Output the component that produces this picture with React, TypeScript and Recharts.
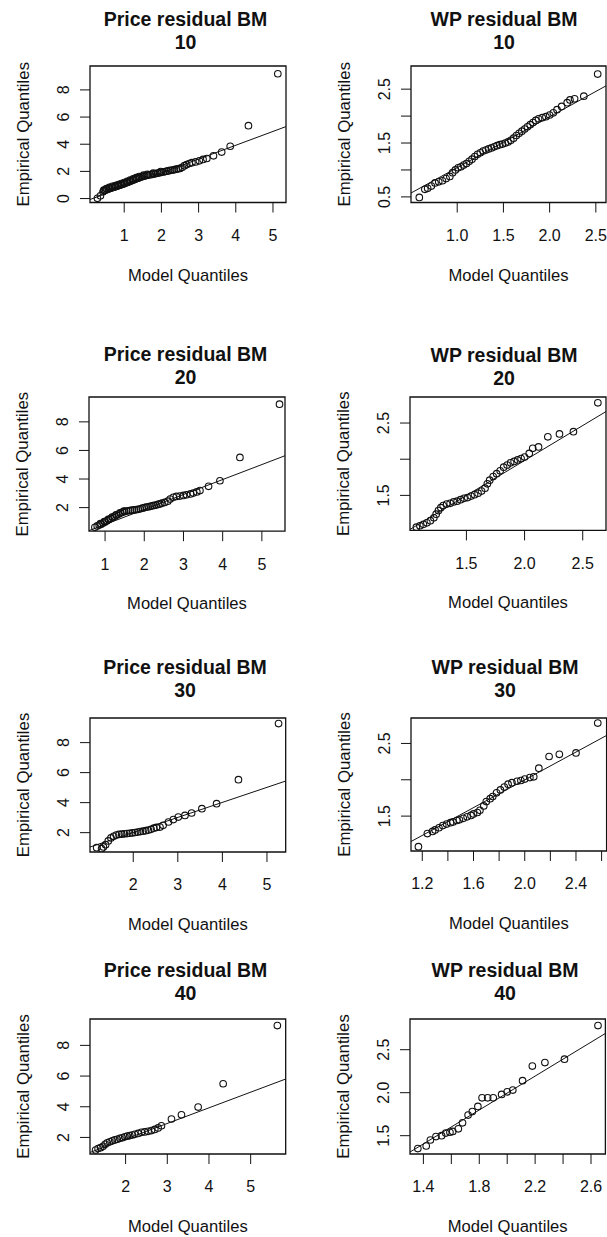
import React from 'react';
import { ScatterChart, Scatter, XAxis, YAxis, ReferenceLine, ReferenceArea } from 'recharts';

const FONT = '"Liberation Sans", Arial, Helvetica, sans-serif';
const INK = '#111';

// ---------- data: [model quantile, empirical quantile] ----------
const priceBM10: [number, number][] = [
  [0.28, 0.02], [0.36, 0.2], [0.43, 0.5], [0.45, 0.62], [0.47, 0.6], [0.5, 0.65], [0.52, 0.74], [0.54, 0.68],
  [0.58, 0.72], [0.6, 0.82], [0.62, 0.76], [0.66, 0.8], [0.68, 0.9], [0.7, 0.83], [0.74, 0.86], [0.76, 0.96],
  [0.78, 0.89], [0.82, 0.93], [0.84, 1.03], [0.86, 0.97], [0.9, 1.0], [0.92, 1.1], [0.94, 1.04], [0.98, 1.08],
  [1.0, 1.18], [1.02, 1.12], [1.06, 1.17], [1.08, 1.27], [1.1, 1.21], [1.14, 1.26], [1.16, 1.36], [1.18, 1.3],
  [1.22, 1.35], [1.24, 1.45], [1.26, 1.39], [1.3, 1.44], [1.32, 1.54], [1.34, 1.48], [1.38, 1.52], [1.4, 1.62],
  [1.42, 1.56], [1.46, 1.6], [1.5, 1.63], [1.52, 1.72], [1.55, 1.66], [1.6, 1.7], [1.62, 1.79], [1.65, 1.73],
  [1.7, 1.76], [1.75, 1.78], [1.78, 1.87], [1.8, 1.81], [1.85, 1.84], [1.9, 1.87], [1.95, 1.9], [1.98, 1.99],
  [2.0, 1.93], [2.05, 1.96], [2.1, 1.99], [2.15, 2.02], [2.2, 2.05], [2.25, 2.08], [2.3, 2.1], [2.35, 2.13],
  [2.4, 2.16], [2.45, 2.19], [2.5, 2.22], [2.56, 2.3], [2.62, 2.42], [2.68, 2.5], [2.75, 2.58], [2.82, 2.64],
  [2.92, 2.7], [3.02, 2.78], [3.12, 2.88], [3.22, 2.95], [3.4, 3.15], [3.62, 3.42], [3.85, 3.85], [4.34, 5.37],
  [5.13, 9.19],
];
const wpBM10: [number, number][] = [
  [0.59, 0.49], [0.65, 0.64], [0.68, 0.66], [0.72, 0.7], [0.76, 0.76], [0.8, 0.78], [0.84, 0.8], [0.88, 0.84],
  [0.92, 0.88], [0.95, 0.95], [0.98, 1.0], [1.01, 1.04], [1.04, 1.06], [1.07, 1.09], [1.1, 1.12], [1.13, 1.16],
  [1.16, 1.2], [1.19, 1.25], [1.22, 1.29], [1.25, 1.32], [1.28, 1.35], [1.31, 1.37], [1.34, 1.39], [1.37, 1.41],
  [1.4, 1.43], [1.43, 1.45], [1.46, 1.47], [1.49, 1.48], [1.52, 1.5], [1.55, 1.52], [1.58, 1.55], [1.61, 1.59],
  [1.64, 1.64], [1.67, 1.68], [1.7, 1.72], [1.73, 1.76], [1.76, 1.8], [1.79, 1.84], [1.82, 1.88], [1.85, 1.92],
  [1.88, 1.95], [1.92, 1.97], [1.96, 1.99], [2.0, 2.02], [2.04, 2.06], [2.08, 2.12], [2.13, 2.18], [2.19, 2.25],
  [2.22, 2.3], [2.27, 2.32], [2.37, 2.37], [2.52, 2.78],
];
const priceBM20: [number, number][] = [
  [0.74, 0.62], [0.8, 0.72], [0.85, 0.78], [0.88, 0.88], [0.9, 0.84], [0.95, 0.92], [0.98, 1.02], [1.0, 1.0],
  [1.05, 1.08], [1.08, 1.18], [1.1, 1.16], [1.15, 1.24], [1.18, 1.34], [1.2, 1.32], [1.25, 1.4], [1.28, 1.5],
  [1.3, 1.48], [1.35, 1.55], [1.38, 1.64], [1.4, 1.62], [1.45, 1.68], [1.48, 1.76], [1.5, 1.73], [1.55, 1.76],
  [1.6, 1.78], [1.65, 1.8], [1.7, 1.82], [1.75, 1.84], [1.8, 1.86], [1.85, 1.88], [1.9, 1.92], [1.95, 1.96],
  [2.0, 2.0], [2.05, 2.03], [2.1, 2.06], [2.15, 2.09], [2.2, 2.12], [2.25, 2.15], [2.3, 2.18], [2.35, 2.22],
  [2.4, 2.26], [2.45, 2.31], [2.52, 2.36], [2.6, 2.45], [2.66, 2.6], [2.74, 2.72], [2.82, 2.78], [2.91, 2.81],
  [3.0, 2.85], [3.08, 2.9], [3.18, 2.96], [3.25, 3.02], [3.34, 3.1], [3.42, 3.19], [3.64, 3.49], [3.93, 3.88],
  [4.44, 5.51], [5.45, 9.24],
];
const wpBM20: [number, number][] = [
  [1.07, 1.06], [1.1, 1.08], [1.13, 1.1], [1.16, 1.12], [1.19, 1.15], [1.22, 1.19], [1.24, 1.24], [1.26, 1.29],
  [1.28, 1.33], [1.3, 1.36], [1.33, 1.38], [1.36, 1.39], [1.39, 1.41], [1.42, 1.42], [1.45, 1.44], [1.48, 1.46],
  [1.51, 1.47], [1.54, 1.49], [1.57, 1.51], [1.6, 1.53], [1.63, 1.56], [1.66, 1.6], [1.68, 1.66], [1.7, 1.71],
  [1.73, 1.76], [1.76, 1.8], [1.79, 1.84], [1.82, 1.89], [1.85, 1.92], [1.88, 1.95], [1.91, 1.97], [1.94, 1.99],
  [1.97, 2.01], [2.0, 2.03], [2.04, 2.08], [2.07, 2.15], [2.12, 2.17], [2.2, 2.31], [2.3, 2.35], [2.42, 2.38],
  [2.63, 2.78],
];
const priceBM30: [number, number][] = [
  [1.18, 1.0], [1.29, 0.93], [1.33, 1.05], [1.38, 1.2], [1.44, 1.45], [1.5, 1.65], [1.56, 1.76], [1.62, 1.84],
  [1.68, 1.88], [1.74, 1.9], [1.8, 1.92], [1.86, 1.94], [1.92, 1.96], [1.98, 1.98], [2.04, 2.01], [2.1, 2.04],
  [2.16, 2.07], [2.22, 2.1], [2.28, 2.13], [2.34, 2.17], [2.4, 2.22], [2.46, 2.3], [2.52, 2.35], [2.6, 2.37],
  [2.67, 2.49], [2.79, 2.71], [2.9, 2.87], [3.01, 3.04], [3.16, 3.15], [3.31, 3.31], [3.54, 3.6], [3.87, 3.93],
  [4.36, 5.53], [5.26, 9.27],
];
const wpBM30: [number, number][] = [
  [1.17, 1.08], [1.24, 1.26], [1.28, 1.29], [1.3, 1.31], [1.33, 1.34], [1.36, 1.37], [1.39, 1.39], [1.42, 1.41],
  [1.44, 1.42], [1.47, 1.44], [1.49, 1.45], [1.52, 1.47], [1.55, 1.49], [1.58, 1.51], [1.6, 1.53], [1.63, 1.55],
  [1.65, 1.58], [1.68, 1.64], [1.7, 1.7], [1.73, 1.74], [1.75, 1.77], [1.78, 1.82], [1.81, 1.86], [1.84, 1.9],
  [1.87, 1.94], [1.9, 1.96], [1.94, 1.98], [1.97, 1.99], [2.0, 2.01], [2.04, 2.03], [2.07, 2.04], [2.11, 2.16],
  [2.19, 2.32], [2.27, 2.35], [2.4, 2.37], [2.57, 2.78],
];
const priceBM40: [number, number][] = [
  [1.28, 1.18], [1.34, 1.28], [1.4, 1.33], [1.46, 1.42], [1.51, 1.55], [1.56, 1.65], [1.62, 1.72], [1.68, 1.78],
  [1.74, 1.84], [1.8, 1.88], [1.86, 1.94], [1.92, 1.98], [1.98, 2.04], [2.04, 2.08], [2.1, 2.12], [2.16, 2.16],
  [2.22, 2.2], [2.3, 2.26], [2.38, 2.33], [2.46, 2.36], [2.54, 2.4], [2.62, 2.45], [2.7, 2.52], [2.78, 2.62],
  [2.86, 2.76], [3.1, 3.2], [3.34, 3.48], [3.74, 3.98], [4.34, 5.5], [5.64, 9.29],
];
const wpBM40: [number, number][] = [
  [1.36, 1.35], [1.42, 1.38], [1.45, 1.45], [1.49, 1.49], [1.53, 1.5], [1.56, 1.53], [1.59, 1.54], [1.61, 1.55],
  [1.65, 1.58], [1.68, 1.65], [1.72, 1.74], [1.75, 1.78], [1.79, 1.84], [1.82, 1.94], [1.86, 1.94], [1.9, 1.94],
  [1.96, 1.98], [2.0, 2.01], [2.04, 2.03], [2.11, 2.14], [2.18, 2.31], [2.27, 2.35], [2.41, 2.39], [2.65, 2.78],
];

// reference (qq) lines: [intercept, slope]
const linePrice10 = [-0.152, 1.019];
const lineWP10 = [0.1, 0.943];
const linePrice20 = [-0.228, 1.048];
const lineWP20 = [0.048, 0.967];
const linePrice30 = [0.008, 1.002];
const lineWP30 = [0.087, 0.956];
const linePrice40 = [-0.149, 1.02];
const lineWP40 = [0.024, 0.986];

// tick values and the ones carrying a label
const priceXTicks1 = [1, 2, 3, 4, 5];
const priceXTicks2 = [2, 3, 4, 5];
const priceYTicks0 = [0, 2, 4, 6, 8];
const priceYTicks2 = [2, 4, 6, 8];
const wp10XTicks = [1.0, 1.5, 2.0, 2.5];
const wp10YTicks = [0.5, 1.0, 1.5, 2.0, 2.5];
const wp10YLabels = [0.5, 1.5, 2.5];
const wp20XTicks = [1.5, 2.0, 2.5];
const wpYTicks = [1.5, 2.0, 2.5];
const wpYLabelsSparse = [1.5, 2.5];
const wp30XTicks = [1.2, 1.4, 1.6, 1.8, 2.0, 2.2, 2.4, 2.6];
const wp30XLabels = [1.2, 1.6, 2.0, 2.4];
const wp40XTicks = [1.4, 1.6, 1.8, 2.0, 2.2, 2.4, 2.6];
const wp40XLabels = [1.4, 1.8, 2.2, 2.6];

const titles = [
  ['Price residual BM', '10'], ['WP residual BM', '10'],
  ['Price residual BM', '20'], ['WP residual BM', '20'],
  ['Price residual BM', '30'], ['WP residual BM', '30'],
  ['Price residual BM', '40'], ['WP residual BM', '40'],
];

type Panel = {
  points: [number, number][];
  line: number[];
  xDomain: [number, number];
  yDomain: [number, number];
  xTicks: number[];
  xLabels: number[];
  yTicks: number[];
  yLabels: number[];
  digits: number;
  box: [number, number, number, number];
  title: string[];
  titleX: number;
  titleMid: number;
};

const panels: Panel[] = [
  { points: priceBM10, line: linePrice10, xDomain: [0.08, 5.35], yDomain: [-0.29, 9.76],
    xTicks: priceXTicks1, xLabels: priceXTicks1, yTicks: priceYTicks0, yLabels: priceYTicks0, digits: 0,
    box: [90, 66, 286, 202.5], title: titles[0], titleX: 185.5, titleMid: 37.5 },
  { points: wpBM10, line: lineWP10, xDomain: [0.5, 2.61], yDomain: [0.396, 2.93],
    xTicks: wp10XTicks, xLabels: wp10XTicks, yTicks: wp10YTicks, yLabels: wp10YLabels, digits: 1,
    box: [411, 66, 606, 202.5], title: titles[1], titleX: 504, titleMid: 37.5 },
  { points: priceBM20, line: linePrice20, xDomain: [0.59, 5.59], yDomain: [0.35, 9.74],
    xTicks: priceXTicks1, xLabels: priceXTicks1, yTicks: priceYTicks2, yLabels: priceYTicks2, digits: 0,
    box: [89, 396.5, 285, 530.7], title: titles[2], titleX: 185.5, titleMid: 372.5 },
  { points: wpBM20, line: lineWP20, xDomain: [1.015, 2.7], yDomain: [1.016, 2.86],
    xTicks: wp20XTicks, xLabels: wp20XTicks, yTicks: wpYTicks, yLabels: wpYLabelsSparse, digits: 1,
    box: [409.5, 397.3, 605.5, 530.7], title: titles[3], titleX: 504, titleMid: 373 },
  { points: priceBM30, line: linePrice30, xDomain: [1.03, 5.42], yDomain: [0.71, 9.64],
    xTicks: priceXTicks2, xLabels: priceXTicks2, yTicks: priceYTicks2, yLabels: priceYTicks2, digits: 0,
    box: [90, 717.7, 285.7, 851.7], title: titles[4], titleX: 185, titleMid: 685.8 },
  { points: wpBM30, line: lineWP30, xDomain: [1.112, 2.639], yDomain: [1.02, 2.85],
    xTicks: wp30XTicks, xLabels: wp30XLabels, yTicks: wpYTicks, yLabels: wpYLabelsSparse, digits: 1,
    box: [410.7, 717.7, 606.3, 850.7], title: titles[5], titleX: 505, titleMid: 685.8 },
  { points: priceBM40, line: linePrice40, xDomain: [1.146, 5.84], yDomain: [0.92, 9.72],
    xTicks: priceXTicks2, xLabels: priceXTicks2, yTicks: priceYTicks2, yLabels: priceYTicks2, digits: 0,
    box: [90, 1019.3, 285.7, 1154.3], title: titles[6], titleX: 185.5, titleMid: 988.2 },
  { points: wpBM40, line: lineWP40, xDomain: [1.304, 2.703], yDomain: [1.287, 2.857],
    xTicks: wp40XTicks, xLabels: wp40XLabels, yTicks: wpYTicks, yLabels: wpYTicks, digits: 1,
    box: [410.3, 1019.3, 605.7, 1154.3], title: titles[7], titleX: 505, titleMid: 988.4 },
];

const LEFT = 90;
const TOP = 10;
const BOTTOM = 90;
const RIGHT = 1;
const TITLE_SIZE = 19.5;
const TITLE_GAP = 23;
const has = (arr: number[], v: number) => arr.some((a) => Math.abs(a - v) < 1e-9);

const Ring = (props: any) => {
  if (props.cx == null || props.cy == null) return <g />;
  return <circle cx={props.cx} cy={props.cy} r={3.3} fill="none" stroke={INK} strokeWidth={1.1} />;
};

function QQPanel({ p }: { p: Panel }) {
  const [bx0, by0, bx1, by1] = p.box;
  const bw = bx1 - bx0;
  const bh = by1 - by0;
  const W = bw + LEFT + RIGHT;
  const H = bh + TOP + BOTTOM;
  const data = p.points.map(([x, y]) => ({ x, y }));
  const [xmin, xmax] = p.xDomain;
  const [ymin, ymax] = p.yDomain;
  const [a, b] = p.line;
  const seg = [{ x: xmin, y: a + b * xmin }, { x: xmax, y: a + b * xmax }];

  const xTick = (props: any) => {
    const { x, y, payload } = props;
    const v = payload.value;
    if (!has(p.xLabels, v)) return <g />;
    return (
      <text x={x} y={y + 28.5} textAnchor="middle" fontSize={16} fontFamily={FONT} fill={INK}>
        {v.toFixed(p.digits)}
      </text>
    );
  };
  const yTick = (props: any) => {
    const { x, y, payload } = props;
    const v = payload.value;
    if (!has(p.yLabels, v)) return <g />;
    const bx = x - 11.3;
    return (
      <text x={bx} y={y} transform={`rotate(-90 ${bx} ${y})`} textAnchor="middle" fontSize={16} fontFamily={FONT} fill={INK}>
        {v.toFixed(p.digits)}
      </text>
    );
  };
  const xTitle = () => (
    <text x={LEFT + bw / 2} y={TOP + bh + 78} textAnchor="middle" fontSize={16.6} fontFamily={FONT} fill={INK}>
      Model Quantiles
    </text>
  );
  const yTitle = () => {
    const tx = LEFT - 61;
    const ty = TOP + bh / 2;
    return (
      <text x={tx} y={ty} transform={`rotate(-90 ${tx} ${ty})`} textAnchor="middle" fontSize={16.8} fontFamily={FONT} fill={INK}>
        Empirical Quantiles
      </text>
    );
  };

  return (
    <div style={{ position: 'absolute', left: bx0 - LEFT, top: by0 - TOP, width: W, height: H }}>
      <ScatterChart width={W} height={H} margin={{ top: TOP, right: RIGHT, bottom: 0, left: 0 }}>
        <XAxis
          type="number"
          dataKey="x"
          domain={p.xDomain}
          allowDataOverflow
          ticks={p.xTicks}
          interval={0}
          tickSize={10}
          tickMargin={0}
          axisLine={false}
          tickLine={{ stroke: INK, strokeWidth: 1 }}
          height={BOTTOM}
          tick={xTick}
          label={{ content: xTitle }}
        />
        <YAxis
          type="number"
          dataKey="y"
          domain={p.yDomain}
          allowDataOverflow
          ticks={p.yTicks}
          interval={0}
          tickSize={10}
          tickMargin={0}
          axisLine={false}
          tickLine={{ stroke: INK, strokeWidth: 1 }}
          width={LEFT}
          tick={yTick}
          label={{ content: yTitle }}
        />
        <ReferenceArea x1={xmin} x2={xmax} y1={ymin} y2={ymax} fill="none" stroke={INK} strokeWidth={1.3} ifOverflow="visible" />
        <ReferenceLine segment={seg} stroke={INK} strokeWidth={1} ifOverflow="hidden" />
        <Scatter data={data} isAnimationActive={false} shape={Ring} />
      </ScatterChart>
    </div>
  );
}

export default function App() {
  return (
    <div style={{ position: 'absolute', left: 0, top: 0, width: 607, height: 1237, background: '#fff', overflow: 'hidden' }}>
      {panels.map((p, i) => (
        <QQPanel key={i} p={p} />
      ))}
      <svg width={607} height={1237} style={{ position: 'absolute', left: 0, top: 0, pointerEvents: 'none' }}>
        {panels.map((p, i) => (
          <g key={i} fontSize={TITLE_SIZE} fontWeight="bold" fontFamily={FONT} fill={INK}>
            <text x={p.titleX} y={p.titleMid - TITLE_GAP / 2} textAnchor="middle">{p.title[0]}</text>
            <text x={p.titleX} y={p.titleMid + TITLE_GAP / 2} textAnchor="middle">{p.title[1]}</text>
          </g>
        ))}
      </svg>
    </div>
  );
}
